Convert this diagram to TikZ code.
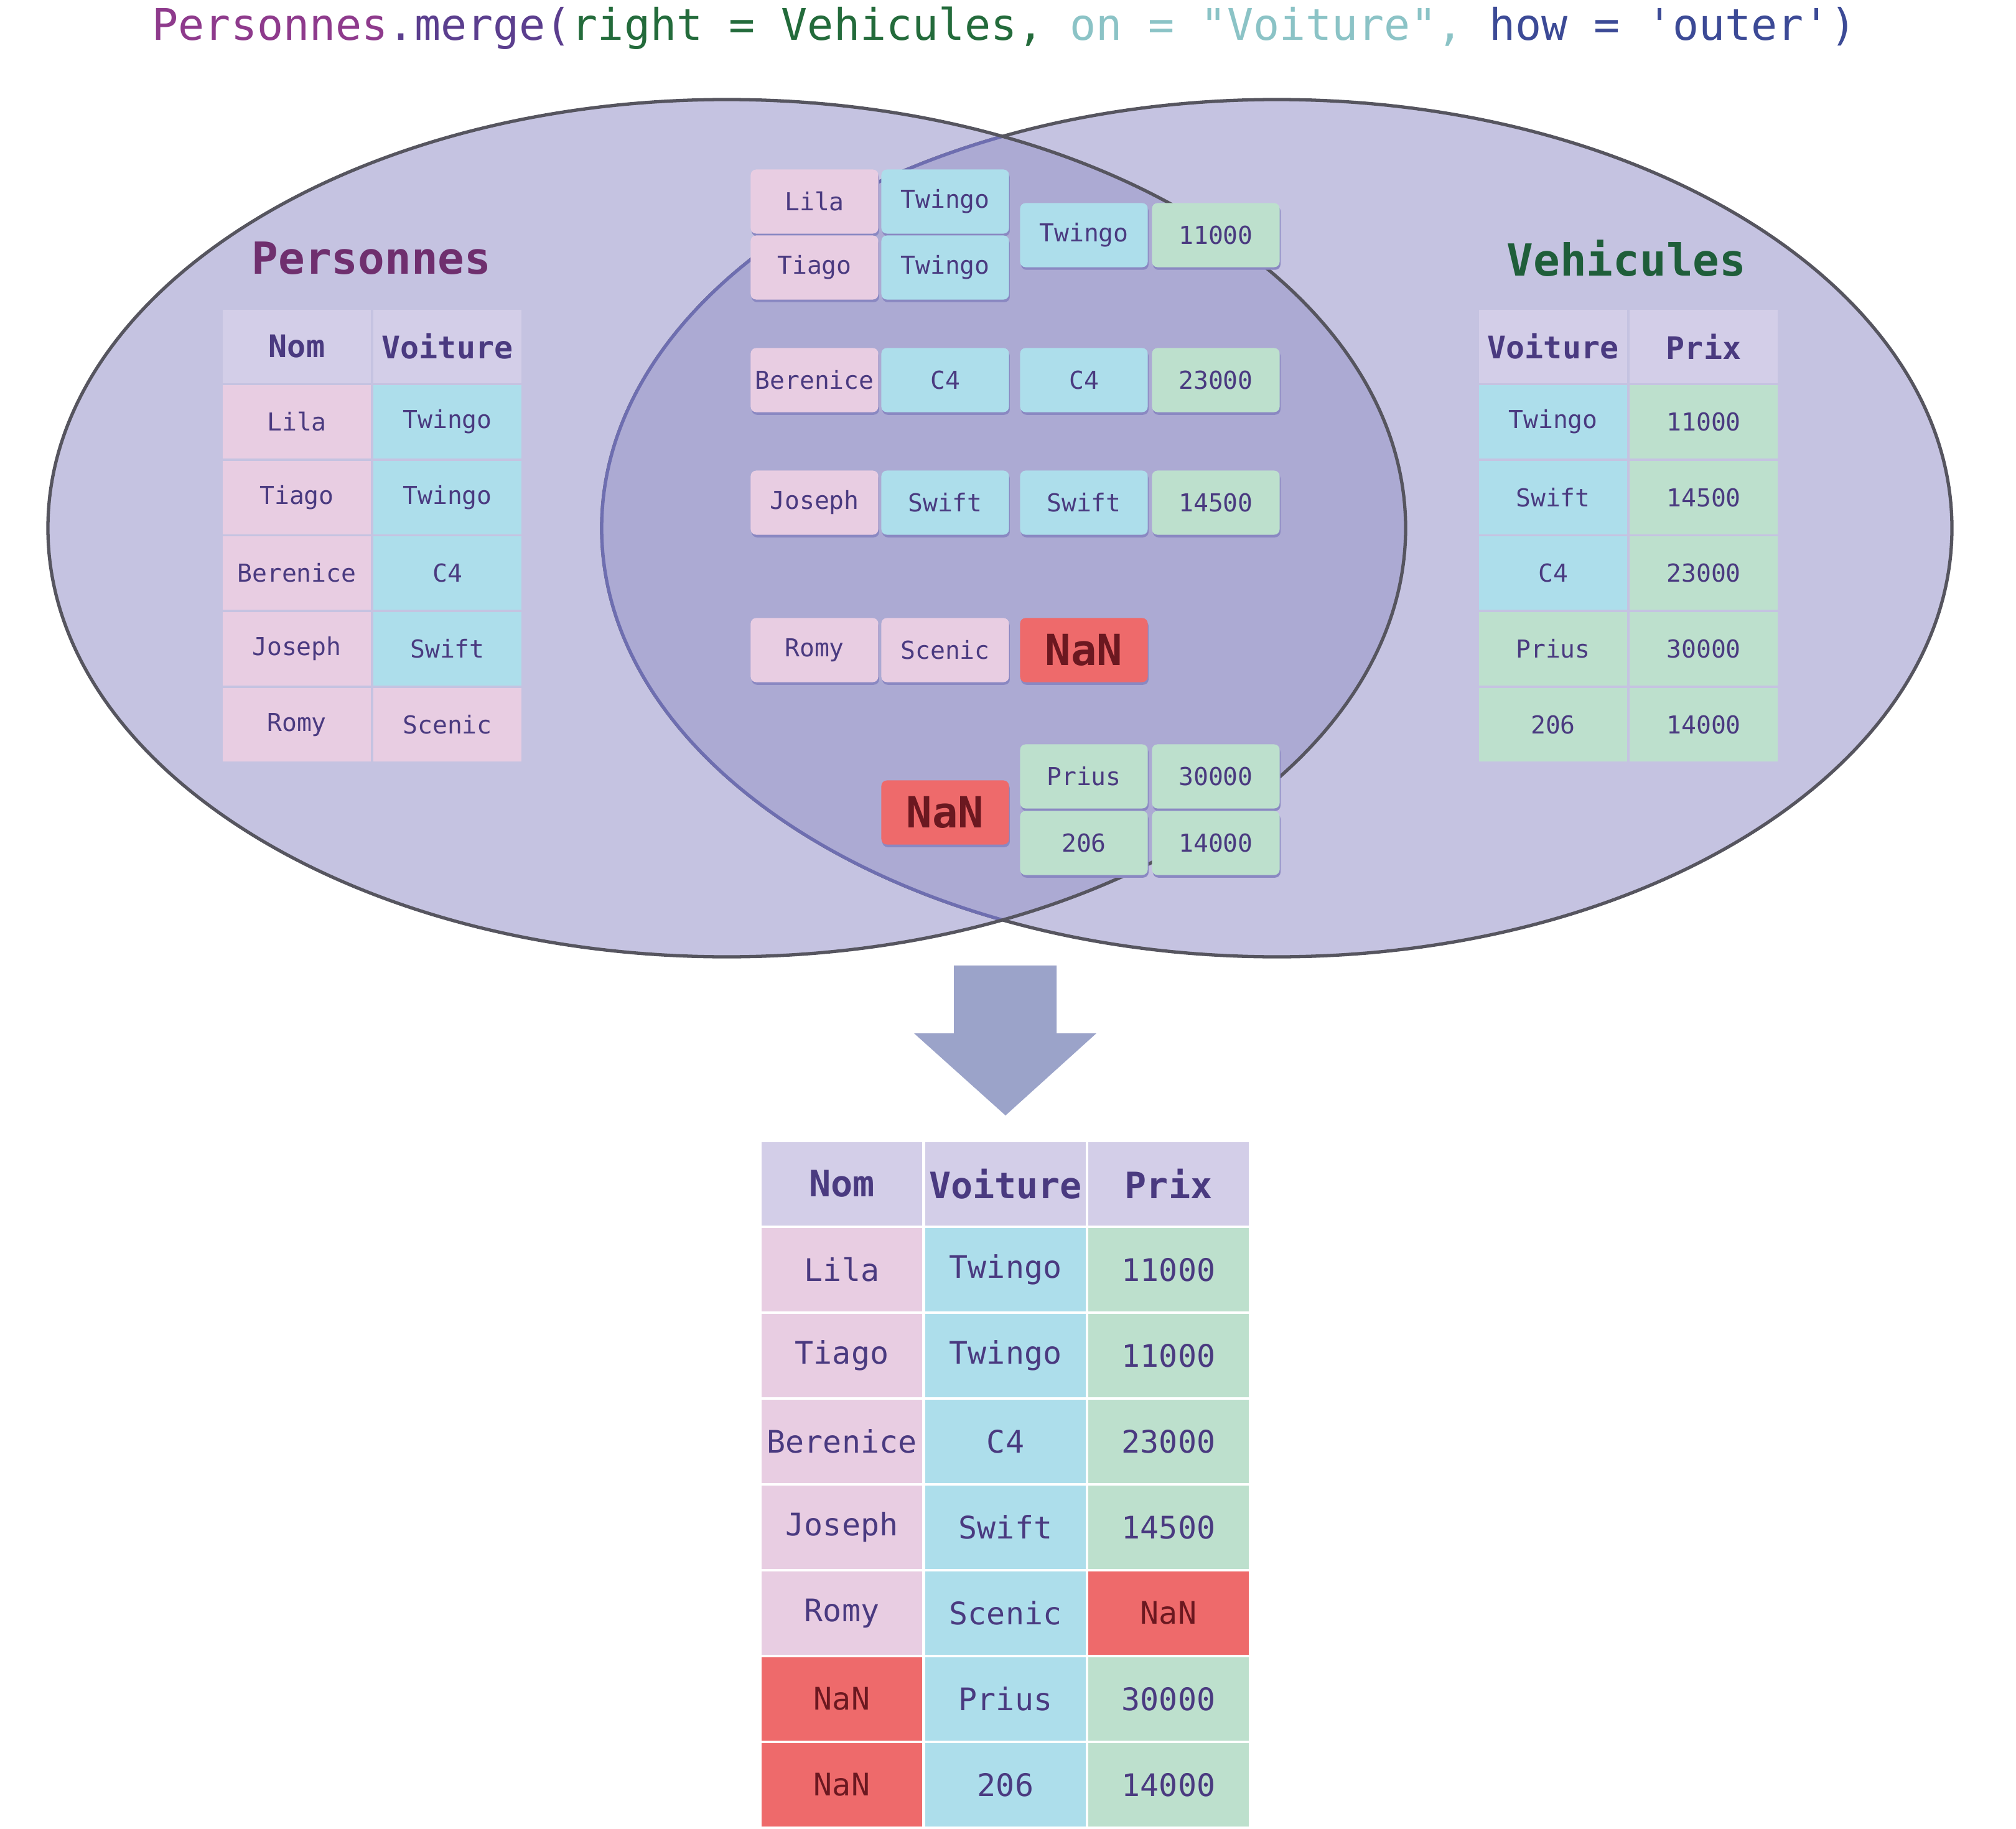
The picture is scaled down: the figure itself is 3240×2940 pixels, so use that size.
\documentclass[tikz,border=0pt]{standalone}
\usepackage{fontspec}
\setmonofont{DejaVu Sans Mono}
\usetikzlibrary{shadows}

\definecolor{ellfill}{HTML}{C5C3E1}
\definecolor{ellover}{HTML}{ACAAD3}
\definecolor{ellline}{HTML}{56555F}
\definecolor{ellinner}{HTML}{6E6EB0}
\definecolor{nomcol}{HTML}{E8CDE2}
\definecolor{carcol}{HTML}{ADDEEB}
\definecolor{prixcol}{HTML}{BDE0CD}
\definecolor{headcol}{HTML}{D3CEE8}
\definecolor{nancol}{HTML}{EE6A6B}
\definecolor{txtcol}{HTML}{4A3A80}
\definecolor{nantxt}{HTML}{6B1820}
\definecolor{shadcol}{HTML}{8A88C2}
\definecolor{arrcol}{HTML}{9BA3C9}
\definecolor{ttlP}{HTML}{8E3A8C}
\definecolor{ttlM}{HTML}{5B3E8E}
\definecolor{ttlG}{HTML}{236B3B}
\definecolor{ttlT}{HTML}{8BC3C6}
\definecolor{ttlB}{HTML}{3C4A96}
\definecolor{persocol}{HTML}{6F2F6E}
\definecolor{vehicol}{HTML}{1F5E3A}

\tikzset{
  cell/.style={minimum width=2.38cm, minimum height=1.18cm, inner sep=0pt, text=txtcol,
    font=\ttfamily\fontsize{11.3}{13}\selectfont},
  headcell/.style={cell, fill=headcol, font=\ttfamily\bfseries\fontsize{14.2}{16}\selectfont},
  nom/.style={fill=nomcol},
  car/.style={fill=carcol},
  prix/.style={fill=prixcol},
  nan/.style={fill=nancol, text=nantxt},
  card/.style={rounded corners=2.5pt, minimum width=2.05cm, minimum height=1.03cm, inner sep=0pt,
    text=txtcol, font=\ttfamily\fontsize{11.3}{13}\selectfont,
    drop shadow={shadow xshift=0.4pt, shadow yshift=-1.2pt, fill=shadcol, opacity=1}},
  bignan/.style={nan, font=\ttfamily\bfseries\fontsize{19.6}{22}\selectfont},
  bigcell/.style={minimum width=2.58cm, minimum height=1.34cm, inner sep=0pt, text=txtcol,
    font=\ttfamily\fontsize{14.2}{16}\selectfont},
  bighead/.style={bigcell, fill=headcol, font=\ttfamily\bfseries\fontsize{16.6}{18}\selectfont},
  title/.style={font=\ttfamily\bfseries\fontsize{20.2}{22}\selectfont},
}

\begin{document}
\begin{tikzpicture}[x=0.01cm, y=-0.01cm]
	\useasboundingbox (0,0) rectangle (3240,2940);
	
	% the two sets
	\fill[ellfill] (1168,849) ellipse [x radius=1091, y radius=689];
	\fill[ellfill] (2052,849) ellipse [x radius=1085, y radius=689];
	\draw[ellline, line width=1.5pt] (2052,849) ellipse [x radius=1085, y radius=689];
	\begin{scope}
		\clip (1168,849) ellipse [x radius=1091, y radius=689];
		\fill[ellover] (2052,849) ellipse [x radius=1085, y radius=689];
		\draw[ellinner, line width=1.5pt] (2052,849) ellipse [x radius=1085, y radius=689];
	\end{scope}
	\draw[ellline, line width=1.5pt] (1168,849) ellipse [x radius=1091, y radius=689];
	
	\node (code) at (1614,45) {\ttfamily\fontsize{19.9}{22}\selectfont\color{ttlP}Personnes\color{ttlM}.merge(\color{ttlG}right = Vehicules, \color{ttlT}on = "Voiture", \color{ttlB}how = 'outer')};
	
	\node[title, text=persocol] (perso) at (597,415) {Personnes};
	\node[title, text=vehicol] (vehi) at (2614,415) {Vehicules};
	
	% Personnes
	\node[headcell] (pNom) at (477,557) {Nom};
	\node[headcell] (pVoit) at (719,557) {Voiture};
	\node[cell, nom] (p1) at (477,678) {Lila};
	\node[cell, car] (p1v) at (719,678) {Twingo};
	\node[cell, nom] (p2) at (477,800) {Tiago};
	\node[cell, car] (p2v) at (719,800) {Twingo};
	\node[cell, nom] (p3) at (477,921) {Berenice};
	\node[cell, car] (p3v) at (719,921) {C4};
	\node[cell, nom] (p4) at (477,1043) {Joseph};
	\node[cell, car] (p4v) at (719,1043) {Swift};
	\node[cell, nom] (p5) at (477,1165) {Romy};
	\node[cell, nom] (p5v) at (719,1165) {Scenic};
	
	% Vehicules
	\node[headcell] (vVoit) at (2496,557) {Voiture};
	\node[headcell] (vPrix) at (2738,557) {Prix};
	\node[cell, car] (v1) at (2496,678) {Twingo};
	\node[cell, prix] (v1p) at (2738,678) {11000};
	\node[cell, car] (v2) at (2496,800) {Swift};
	\node[cell, prix] (v2p) at (2738,800) {14500};
	\node[cell, car] (v3) at (2496,921) {C4};
	\node[cell, prix] (v3p) at (2738,921) {23000};
	\node[cell, prix] (v4) at (2496,1043) {Prius};
	\node[cell, prix] (v4p) at (2738,1043) {30000};
	\node[cell, prix] (v5) at (2496,1165) {206};
	\node[cell, prix] (v5p) at (2738,1165) {14000};
	
	% matching rows
	\node[card, nom] (cLila) at (1309,324) {Lila};
	\node[card, car] (cLilaV) at (1519,324) {Twingo};
	\node[card, nom] (cTiago) at (1309,430) {Tiago};
	\node[card, car] (cTiagoV) at (1519,430) {Twingo};
	\node[card, car] (cTwingo) at (1742,378) {Twingo};
	\node[card, prix] (cTwingoP) at (1954,378) {11000};
	
	\node[card, nom] (cBere) at (1309,611) {Berenice};
	\node[card, car] (cBereV) at (1519,611) {C4};
	\node[card, car] (cC4) at (1742,611) {C4};
	\node[card, prix] (cC4P) at (1954,611) {23000};
	
	\node[card, nom] (cJose) at (1309,808) {Joseph};
	\node[card, car] (cJoseV) at (1519,808) {Swift};
	\node[card, car] (cSwift) at (1742,808) {Swift};
	\node[card, prix] (cSwiftP) at (1954,808) {14500};
	
	\node[card, nom] (cRomy) at (1309,1045) {Romy};
	\node[card, nom] (cRomyV) at (1519,1045) {Scenic};
	\node[card, bignan] (cNan1) at (1742,1045) {NaN};
	
	\node[card, bignan] (cNan2) at (1519,1306) {NaN};
	\node[card, prix] (cPrius) at (1742,1248) {Prius};
	\node[card, prix] (cPriusP) at (1954,1248) {30000};
	\node[card, prix] (c206) at (1742,1355) {206};
	\node[card, prix] (c206P) at (1954,1355) {14000};
	
	% result
	\fill[arrcol] (1533,1552) -- (1698,1552) -- (1698,1661) -- (1762,1661) -- (1616,1793)
		-- (1469,1661) -- (1533,1661) -- cycle;
	
	\node[bighead] (rNom) at (1353,1903) {Nom};
	\node[bighead] (rVoit) at (1616,1903) {Voiture};
	\node[bighead] (rPrix) at (1878,1903) {Prix};
	\node[bigcell, nom] (r1) at (1353,2041) {Lila};
	\node[bigcell, car] (r1v) at (1616,2041) {Twingo};
	\node[bigcell, prix] (r1p) at (1878,2041) {11000};
	\node[bigcell, nom] (r2) at (1353,2179) {Tiago};
	\node[bigcell, car] (r2v) at (1616,2179) {Twingo};
	\node[bigcell, prix] (r2p) at (1878,2179) {11000};
	\node[bigcell, nom] (r3) at (1353,2317) {Berenice};
	\node[bigcell, car] (r3v) at (1616,2317) {C4};
	\node[bigcell, prix] (r3p) at (1878,2317) {23000};
	\node[bigcell, nom] (r4) at (1353,2455) {Joseph};
	\node[bigcell, car] (r4v) at (1616,2455) {Swift};
	\node[bigcell, prix] (r4p) at (1878,2455) {14500};
	\node[bigcell, nom] (r5) at (1353,2593) {Romy};
	\node[bigcell, car] (r5v) at (1616,2593) {Scenic};
	\node[bigcell, nan] (r5p) at (1878,2593) {NaN};
	\node[bigcell, nan] (r6) at (1353,2731) {NaN};
	\node[bigcell, car] (r6v) at (1616,2731) {Prius};
	\node[bigcell, prix] (r6p) at (1878,2731) {30000};
	\node[bigcell, nan] (r7) at (1353,2869) {NaN};
	\node[bigcell, car] (r7v) at (1616,2869) {206};
	\node[bigcell, prix] (r7p) at (1878,2869) {14000};
\end{tikzpicture}
\end{document}
